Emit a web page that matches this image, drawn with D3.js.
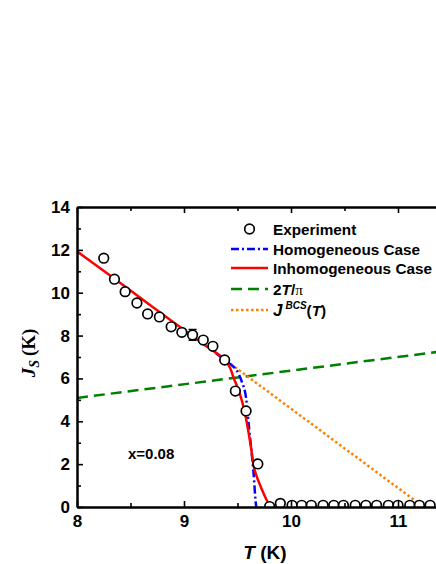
<!DOCTYPE html>
<html>
<head>
<meta charset="utf-8">
<script src="https://cdn.jsdelivr.net/npm/d3@7"></script>
<style>
    body { margin: 0; background: #fff; }
    text { font-family: "Liberation Sans", Arial, sans-serif; font-weight: bold; }
</style>
</head>
<body>
<div id="chart"></div>
<script>
// Superfluid stiffness J_s vs T, x=0.08
const expT = [8.25, 8.35, 8.45, 8.56, 8.66, 8.77, 8.88, 8.98, 9.08, 9.18, 9.27, 9.38, 9.48, 9.58, 9.69,
    9.80, 9.90, 10.01, 10.10, 10.19, 10.30, 10.40, 10.49, 10.60, 10.70, 10.80, 10.91, 11.00, 11.11, 11.20, 11.30];
const expJ = [11.61, 10.63, 10.05, 9.52, 9.01, 8.87, 8.41, 8.15, 8.03, 7.79, 7.50, 6.86, 5.41, 4.48, 2.01,
    0.02, 0.17, 0.08, 0.08, 0.08, 0.08, 0.08, 0.08, 0.08, 0.08, 0.08, 0.08, 0.08, 0.08, 0.08, 0.08];
const errIndex = 8, errSize = 0.25;

const homoT = [9.30, 9.40, 9.45, 9.49, 9.54, 9.58, 9.61, 9.65, 9.673, 9.676];
const homoJ = [7.17, 6.80, 6.60, 6.39, 5.85, 5.09, 3.59, 1.59, 0.09, 0];

const inhomoT = [8.0, 8.5, 9.0, 9.2, 9.38, 9.43, 9.46, 9.52, 9.57, 9.62, 9.66, 9.73, 9.77, 9.80, 9.82];
const inhomoJ = [11.93, 10.10, 8.26, 7.54, 6.88, 6.50, 6.08, 5.31, 4.37, 2.99, 1.73, 0.79, 0.35, 0.09, 0];

const twoTpiT = [8.0, 11.5];
const twoTpiJ = [5.09, 7.32];

const bcsT = [9.40, 11.24];
const bcsJ = [6.81, 0];

const xMajor = [8, 9, 10, 11];
const xMinor = [8.5, 9.5, 10.5, 11.5];
const yMajor = [0, 2, 4, 6, 8, 10, 12, 14];
const yMinor = [1, 3, 5, 7, 9, 11, 13];

const W = 436, H = 564;
const margin = { top: 207, left: 77, bottom: 57 };
const x = d3.scaleLinear().domain([8, 11.5]).range([margin.left, margin.left + 3.5 * 107]);
const y = d3.scaleLinear().domain([0, 14]).range([H - margin.bottom, margin.top]);

const svg = d3.select("#chart").append("svg")
    .attr("width", W).attr("height", H);

svg.append("clipPath").attr("id", "plotclip")
    .append("rect")
    .attr("x", x(8)).attr("y", y(14))
    .attr("width", x(11.5) - x(8)).attr("height", y(0) - y(14));

const plot = svg.append("g").attr("clip-path", "url(#plotclip)");

const line = d3.line().x(d => x(d[0])).y(d => y(d[1]));
const smooth = d3.line().x(d => x(d[0])).y(d => y(d[1])).curve(d3.curveMonotoneX);
const zip = (a, b) => a.map((v, i) => [v, b[i]]);

// Lines
plot.append("path").datum(zip(twoTpiT, twoTpiJ))
    .attr("d", line).attr("fill", "none")
    .attr("stroke", "#008000").attr("stroke-width", 2.5).attr("stroke-dasharray", "11,6");

plot.append("path").datum(zip(bcsT, bcsJ))
    .attr("d", line).attr("fill", "none")
    .attr("stroke", "#ff8000").attr("stroke-width", 2.5).attr("stroke-dasharray", "2.5,2.5");

plot.append("path").datum(zip(homoT, homoJ))
    .attr("d", smooth).attr("fill", "none")
    .attr("stroke", "#0000ff").attr("stroke-width", 2.5).attr("stroke-dasharray", "8,3,2,3");

plot.append("path").datum(zip(inhomoT, inhomoJ))
    .attr("d", d3.line().x(d => x(d[0])).y(d => y(d[1])).curve(d3.curveCatmullRom))
    .attr("fill", "none")
    .attr("stroke", "#ff0000").attr("stroke-width", 2.5);

// Error bar
const eT = expT[errIndex], eJ = expJ[errIndex];
plot.append("path")
    .attr("d", `M${x(eT)},${y(eJ + errSize)}V${y(eJ - errSize)}` +
        `M${x(eT) - 4},${y(eJ + errSize)}H${x(eT) + 4}M${x(eT) - 4},${y(eJ - errSize)}H${x(eT) + 4}`)
    .attr("stroke", "#000").attr("stroke-width", 1.5).attr("fill", "none");

// Experiment points
plot.selectAll(".pt")
    .data(zip(expT, expJ))
    .enter().append("circle")
    .attr("class", "pt")
    .attr("cx", d => x(d[0])).attr("cy", d => y(d[1]))
    .attr("r", 4.8)
    .attr("fill", "#fff").attr("stroke", "#000").attr("stroke-width", 1.7);

// Axes
function drawAxis(axis, transform, labels) {
    const g = svg.append("g").attr("transform", transform).call(axis);
    g.select(".domain").attr("stroke", "#000").attr("stroke-width", 2);
    g.selectAll(".tick line").attr("stroke", "#000").attr("stroke-width", 1.6);
    if (!labels) g.selectAll(".tick text").remove();
    return g;
}

const bottomMaj = drawAxis(d3.axisBottom(x).tickValues(xMajor).tickFormat(d3.format("d"))
    .tickSize(-6).tickSizeOuter(0).tickPadding(8), `translate(0,${y(0)})`, true);
bottomMaj.selectAll(".tick text").attr("font-size", 17).attr("fill", "#000");
drawAxis(d3.axisBottom(x).tickValues(xMinor).tickSize(-4).tickSizeOuter(0), `translate(0,${y(0)})`, false);
drawAxis(d3.axisTop(x).tickValues(xMajor).tickSize(-6).tickSizeOuter(0), `translate(0,${y(14)})`, false);
drawAxis(d3.axisTop(x).tickValues(xMinor).tickSize(-4).tickSizeOuter(0), `translate(0,${y(14)})`, false);

const leftMaj = drawAxis(d3.axisLeft(y).tickValues(yMajor).tickFormat(d3.format("d"))
    .tickSize(-6).tickSizeOuter(0).tickPadding(7), `translate(${x(8)},0)`, true);
leftMaj.selectAll(".tick text").attr("font-size", 17).attr("fill", "#000");
drawAxis(d3.axisLeft(y).tickValues(yMinor).tickSize(-4).tickSizeOuter(0), `translate(${x(8)},0)`, false);

// Axis titles
const xt = svg.append("text")
    .attr("x", 265).attr("y", 559)
    .attr("text-anchor", "middle").attr("font-size", 19);
xt.append("tspan").attr("font-style", "italic").text("T");
xt.append("tspan").text(" (K)");

const yt = svg.append("text")
    .attr("transform", "translate(35,353) rotate(-90)")
    .attr("text-anchor", "middle").attr("font-size", 19)
    .style("font-family", "'Liberation Serif', 'Times New Roman', serif");
yt.append("tspan").attr("font-style", "italic").text("J");
yt.append("tspan").attr("font-style", "italic").attr("font-size", 14).attr("baseline-shift", "-25%").text("S");
yt.append("tspan").attr("dx", 4).text("(K)");

// Annotation
svg.append("text").attr("x", 128).attr("y", 459).attr("font-size", 15).text("x=0.08");

// Legend
const legX0 = 231, legX1 = 268, legText = 273;
const legend = svg.append("g");
const rows = [229, 249, 268, 289, 310];

legend.append("circle").attr("cx", (legX0 + legX1) / 2).attr("cy", rows[0]).attr("r", 4.8)
    .attr("fill", "#fff").attr("stroke", "#000").attr("stroke-width", 1.7);
const legLines = [
    { row: 1, color: "#0000ff", dash: "8,3,2,3", w: 2.5 },
    { row: 2, color: "#ff0000", dash: null, w: 2.5 },
    { row: 3, color: "#008000", dash: "11,6", w: 2.5 },
    { row: 4, color: "#ff8000", dash: "2.5,2.5", w: 2.5 }
];
legLines.forEach(l => {
    legend.append("line")
        .attr("x1", legX0).attr("x2", legX1)
        .attr("y1", rows[l.row]).attr("y2", rows[l.row])
        .attr("stroke", l.color).attr("stroke-width", l.w)
        .attr("stroke-dasharray", l.dash);
});

const legLabel = (i) => legend.append("text")
    .attr("x", legText).attr("y", rows[i] + 5.5).attr("font-size", 15.3);
legLabel(0).text("Experiment");
legLabel(1).text("Homogeneous Case");
legLabel(2).text("Inhomogeneous Case");
const l3 = legLabel(3);
l3.append("tspan").text("2");
l3.append("tspan").attr("font-style", "italic").text("T");
l3.append("tspan").text("/");
l3.append("tspan").style("font-family", "'Liberation Serif', serif").style("font-weight", "normal").text("π");
const l4 = legLabel(4);
l4.append("tspan").attr("font-style", "italic").attr("font-size", 17).text("J");
l4.append("tspan").attr("font-style", "italic").attr("font-size", 10).attr("dx", 3).attr("dy", -7).text("BCS");
l4.append("tspan").attr("dy", 7).text("(");
l4.append("tspan").attr("font-style", "italic").text("T");
l4.append("tspan").text(")");
</script>
</body>
</html>
